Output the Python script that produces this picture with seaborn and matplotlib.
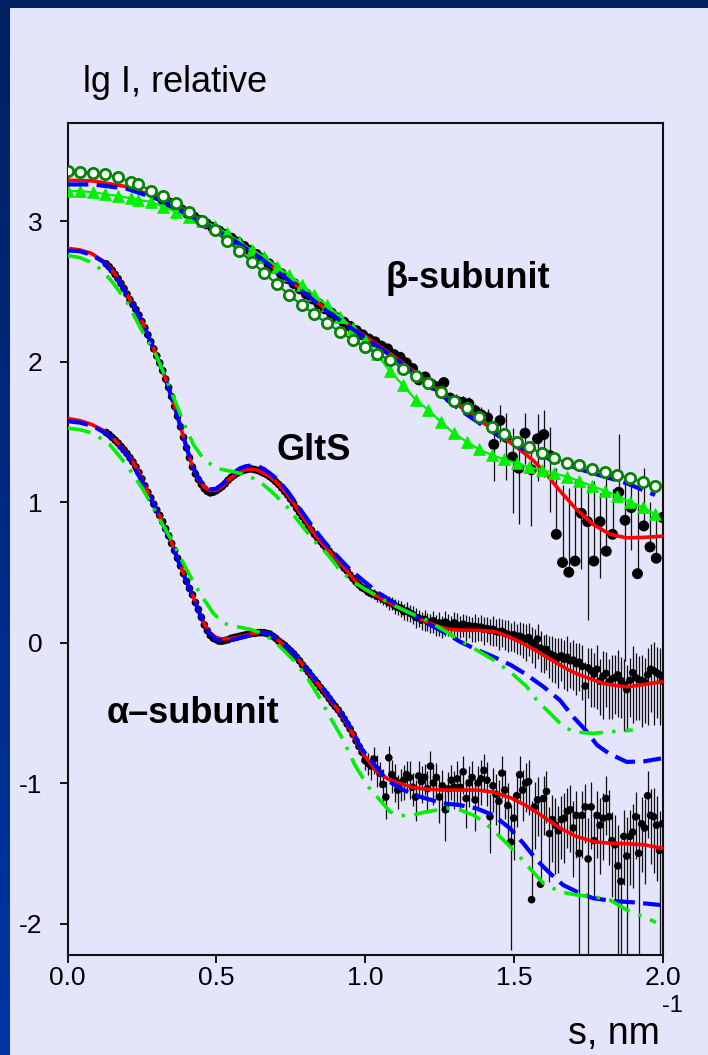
import numpy as np
import matplotlib
matplotlib.use("Agg")
import matplotlib.pyplot as plt
import seaborn as sns
from matplotlib.patches import Rectangle
from matplotlib.colors import LinearSegmentedColormap

# ---------------------------------------------------------------------------
# beta-subunit: two model curves, two symbol curves, experimental points
# ---------------------------------------------------------------------------
beta_red_s = [0.0, 0.087, 0.199, 0.311, 0.423, 0.535, 0.647, 0.759, 0.871, 0.983,
              1.095, 1.207, 1.319, 1.37, 1.41, 1.454, 1.51, 1.566, 1.611, 1.655,
              1.712, 1.767, 1.824, 1.88, 1.935, 2.0]
beta_red = [3.29, 3.285, 3.244, 3.161, 3.031, 2.9, 2.746, 2.557, 2.367, 2.205,
            2.04, 1.86, 1.68, 1.605, 1.545, 1.475, 1.39, 1.295, 1.195, 1.08,
            0.945, 0.84, 0.77, 0.745, 0.748, 0.757]

beta_blue_s = [0.0, 0.087, 0.199, 0.311, 0.423, 0.535, 0.647, 0.759, 0.871, 0.983,
               1.095, 1.207, 1.319, 1.41, 1.487, 1.566, 1.655, 1.712, 1.767, 1.824,
               1.88, 1.935, 1.975]
beta_blue = [3.26, 3.26, 3.23, 3.15, 3.025, 2.895, 2.74, 2.55, 2.36, 2.195,
             2.03, 1.845, 1.656, 1.524, 1.418, 1.347, 1.287, 1.24, 1.204, 1.169,
             1.133, 1.085, 1.05]

beta_sym_s = [0.0, 0.042, 0.085, 0.127, 0.17, 0.212, 0.238, 0.28, 0.322, 0.365,
              0.41, 0.451, 0.496, 0.535, 0.577, 0.619, 0.661, 0.703, 0.746, 0.787,
              0.829, 0.871, 0.916, 0.959, 1.0, 1.041, 1.084, 1.127, 1.171, 1.213,
              1.255, 1.299, 1.342, 1.383, 1.426, 1.467, 1.51, 1.552, 1.594, 1.636,
              1.68, 1.72, 1.764, 1.807, 1.848, 1.891, 1.933, 1.975]
beta_circles = [3.356, 3.351, 3.344, 3.332, 3.311, 3.28, 3.261, 3.216, 3.178, 3.126,
                3.066, 3.002, 2.936, 2.86, 2.789, 2.71, 2.628, 2.552, 2.473, 2.402,
                2.338, 2.272, 2.212, 2.153, 2.105, 2.053, 2.01, 1.95, 1.897, 1.845,
                1.785, 1.721, 1.667, 1.607, 1.536, 1.484, 1.43, 1.39, 1.347, 1.311,
                1.28, 1.263, 1.233, 1.211, 1.194, 1.169, 1.142, 1.116]
beta_triangles = [3.213, 3.213, 3.204, 3.192, 3.178, 3.162, 3.15, 3.137, 3.102, 3.066,
                  3.03, 2.997, 2.964, 2.912, 2.853, 2.794, 2.746, 2.675, 2.616, 2.544,
                  2.473, 2.402, 2.319, 2.236, 2.153, 2.05, 1.93, 1.833, 1.726, 1.655,
                  1.57, 1.489, 1.429, 1.375, 1.335, 1.304, 1.275, 1.247, 1.228, 1.204,
                  1.18, 1.149, 1.114, 1.08, 1.043, 1.002, 0.962, 0.915]

beta_s = [0.32, 0.341, 0.362, 0.383, 0.404, 0.425, 0.446, 0.467, 0.488, 0.509,
          0.53, 0.551, 0.572, 0.593, 0.614, 0.635, 0.656, 0.677, 0.698, 0.719,
          0.74, 0.761, 0.782, 0.803, 0.824, 0.845, 0.866, 0.887, 0.908, 0.929,
          0.95, 0.971, 0.992, 1.013, 1.034, 1.055, 1.076, 1.097, 1.118, 1.139,
          1.16, 1.181, 1.202, 1.223, 1.244, 1.265, 1.286, 1.307, 1.328, 1.349,
          1.37, 1.391, 1.412, 1.433, 1.454, 1.475, 1.496, 1.517, 1.538, 1.559,
          1.58, 1.601, 1.622, 1.643, 1.664, 1.685, 1.706, 1.727, 1.748, 1.769,
          1.79, 1.811, 1.832, 1.853, 1.874, 1.895, 1.916, 1.937, 1.958, 1.979,
          2.0]
beta_lgI = [3.153, 3.13, 3.105, 3.08, 3.053, 3.029, 3.004, 2.98, 2.955, 2.93,
            2.905, 2.878, 2.85, 2.82, 2.79, 2.762, 2.732, 2.695, 2.66, 2.625,
            2.59, 2.555, 2.517, 2.48, 2.445, 2.41, 2.375, 2.345, 2.31, 2.28,
            2.25, 2.22, 2.19, 2.16, 2.14, 2.11, 2.09, 2.05, 2.03, 1.99,
            1.95, 1.87, 1.89, 1.84, 1.82, 1.85, 1.74, 1.72, 1.71, 1.70,
            1.65, 1.62, 1.60, 1.41, 1.58, 1.46, 1.32, 1.24, 1.49, 1.23,
            1.45, 1.48, 1.33, 0.77, 0.57, 0.50, 0.58, 0.92, 0.86, 0.58,
            0.86, 0.65, 0.77, 1.07, 0.87, 0.96, 0.49, 0.83, 0.68, 0.60,
            0.89]
# relative error of the intensity, sigma / I
beta_rel_err = [0.03] * 30 + [0.04] * 10 + [
    0.06, 0.08, 0.07, 0.09, 0.08, 0.1, 0.09, 0.11, 0.1, 0.12,
    0.12, 0.14, 0.15, 0.45, 0.3, 0.5, 0.6, 0.6, 0.4, 0.6,
    0.5, 0.5, 0.6, 1.95, 2.55, 3.0, 2.7, 0.6, 0.8, 2.7,
    0.6, 2.5, 1.1, 1.6, 0.9, 0.5, 3.0, 1.6, 1.1, 1.2,
    0.7]

# ---------------------------------------------------------------------------
# GltS holoenzyme
# ---------------------------------------------------------------------------
glts_red_s = [0.0, 0.04, 0.08, 0.12, 0.14, 0.16, 0.18, 0.20, 0.22, 0.24,
              0.26, 0.28, 0.30, 0.32, 0.34, 0.36, 0.38, 0.40, 0.42, 0.44,
              0.46, 0.48, 0.50, 0.52, 0.54, 0.56, 0.58, 0.60, 0.62, 0.64,
              0.66, 0.68, 0.70, 0.72, 0.74, 0.76, 0.78, 0.80, 0.82, 0.84,
              0.86, 0.88, 0.90, 0.92, 0.94, 0.96, 0.98, 1.00, 1.04, 1.08,
              1.12, 1.16, 1.20, 1.24, 1.28, 1.32, 1.36, 1.40, 1.44, 1.48,
              1.52, 1.56, 1.60, 1.64, 1.68, 1.72, 1.76, 1.80, 1.84, 1.88,
              1.92, 1.96, 2.00]
glts_red = [2.805, 2.795, 2.77, 2.715, 2.675, 2.62, 2.555, 2.48, 2.405, 2.33,
            2.24, 2.14, 2.04, 1.935, 1.815, 1.68, 1.535, 1.385, 1.25, 1.16,
            1.105, 1.08, 1.085, 1.11, 1.155, 1.19, 1.215, 1.23, 1.235, 1.225,
            1.205, 1.18, 1.145, 1.10, 1.05, 0.99, 0.925, 0.865, 0.80, 0.745,
            0.695, 0.65, 0.60, 0.555, 0.51, 0.455, 0.41, 0.375, 0.33, 0.285,
            0.24, 0.195, 0.152, 0.118, 0.095, 0.088, 0.088, 0.085, 0.075, 0.045,
            0.005, -0.04, -0.09, -0.14, -0.19, -0.23, -0.26, -0.29, -0.305, -0.315,
            -0.305, -0.29, -0.28]

glts_blue_s = [0.0, 0.04, 0.08, 0.12, 0.16, 0.20, 0.24, 0.28, 0.32, 0.36,
               0.40, 0.42, 0.44, 0.46, 0.48, 0.50, 0.52, 0.54, 0.56, 0.58,
               0.60, 0.62, 0.64, 0.66, 0.68, 0.70, 0.72, 0.74, 0.76, 0.78,
               0.80, 0.82, 0.84, 0.86, 0.88, 0.90, 0.92, 0.94, 0.96, 0.98,
               1.00, 1.04, 1.10, 1.15, 1.21, 1.26, 1.32, 1.38, 1.43, 1.49,
               1.54, 1.60, 1.655, 1.70, 1.74, 1.78, 1.82, 1.88, 1.94, 1.995]
glts_blue = [2.79, 2.785, 2.76, 2.71, 2.615, 2.475, 2.33, 2.14, 1.935, 1.68,
             1.39, 1.26, 1.17, 1.115, 1.09, 1.095, 1.125, 1.17, 1.21, 1.24,
             1.255, 1.26, 1.255, 1.235, 1.205, 1.17, 1.125, 1.075, 1.015, 0.955,
             0.895, 0.835, 0.78, 0.725, 0.675, 0.63, 0.585, 0.54, 0.50, 0.465,
             0.43, 0.36, 0.28, 0.21, 0.135, 0.08, 0.005, -0.055, -0.10, -0.16,
             -0.225, -0.315, -0.41, -0.53, -0.62, -0.73, -0.79, -0.85, -0.845, -0.825]

glts_green_s = [0.0, 0.04, 0.087, 0.12, 0.154, 0.199, 0.255, 0.30, 0.333, 0.367,
                0.389, 0.423, 0.456, 0.50, 0.557, 0.602, 0.647, 0.692, 0.737, 0.782,
                0.826, 0.871, 0.916, 0.96, 1.006, 1.073, 1.151, 1.207, 1.263, 1.319,
                1.375, 1.431, 1.487, 1.544, 1.577, 1.628, 1.661, 1.70, 1.767, 1.824,
                1.90]
glts_green = [2.755, 2.74, 2.70, 2.64, 2.557, 2.426, 2.2, 2.034, 1.87, 1.69,
              1.57, 1.41, 1.31, 1.24, 1.216, 1.192, 1.145, 1.062, 0.967, 0.848,
              0.73, 0.635, 0.516, 0.43, 0.374, 0.29, 0.21, 0.16, 0.089, 0.018,
              -0.053, -0.124, -0.207, -0.315, -0.409, -0.516, -0.587, -0.635, -0.647, -0.635,
              -0.623]

# ---------------------------------------------------------------------------
# alpha-subunit
# ---------------------------------------------------------------------------
alpha_red_s = [0.0, 0.04, 0.08, 0.12, 0.16, 0.20, 0.22, 0.24, 0.26, 0.28,
               0.30, 0.32, 0.34, 0.36, 0.38, 0.40, 0.42, 0.44, 0.46, 0.48,
               0.50, 0.52, 0.54, 0.56, 0.58, 0.60, 0.62, 0.64, 0.66, 0.68,
               0.70, 0.72, 0.74, 0.76, 0.78, 0.80, 0.82, 0.84, 0.86, 0.88,
               0.90, 0.92, 0.94, 0.96, 0.98, 1.00, 1.04, 1.08, 1.12, 1.16,
               1.20, 1.26, 1.32, 1.38, 1.43, 1.49, 1.54, 1.60, 1.655, 1.71,
               1.77, 1.82, 1.88, 1.94, 2.00]
alpha_red = [1.595, 1.58, 1.553, 1.51, 1.44, 1.345, 1.285, 1.21, 1.115, 1.03,
             0.943, 0.855, 0.762, 0.655, 0.545, 0.435, 0.34, 0.235, 0.13, 0.065,
             0.035, 0.025, 0.027, 0.032, 0.042, 0.053, 0.063, 0.07, 0.072, 0.065,
             0.03, -0.005, -0.04, -0.08, -0.13, -0.185, -0.24, -0.29, -0.345, -0.40,
             -0.455, -0.51, -0.58, -0.655, -0.74, -0.81, -0.92, -0.975, -1.005, -1.03,
             -1.042, -1.05, -1.05, -1.05, -1.065, -1.105, -1.16, -1.24, -1.32, -1.38,
             -1.418, -1.428, -1.432, -1.44, -1.465]

alpha_blue_s = [0.0, 0.042, 0.087, 0.143, 0.199, 0.255, 0.30, 0.345, 0.389, 0.423,
                0.445, 0.468, 0.496, 0.524, 0.557, 0.602, 0.647, 0.681, 0.714, 0.759,
                0.804, 0.849, 0.893, 0.927, 0.961, 0.983, 1.028, 1.073, 1.129, 1.185,
                1.263, 1.319, 1.375, 1.431, 1.487, 1.532, 1.577, 1.622, 1.666, 1.723,
                1.767, 1.835, 1.902, 1.992]
alpha_blue = [1.575, 1.565, 1.54, 1.47, 1.34, 1.13, 0.94, 0.73, 0.49, 0.32,
              0.2, 0.09, 0.025, 0.01, 0.02, 0.045, 0.07, 0.065, 0.01, -0.07,
              -0.185, -0.30, -0.42, -0.52, -0.64, -0.742, -0.86, -0.979, -1.05, -1.098,
              -1.145, -1.157, -1.181, -1.228, -1.322, -1.429, -1.548, -1.643, -1.726, -1.785,
              -1.82, -1.84, -1.849, -1.868]

alpha_green_s = [0.0, 0.042, 0.087, 0.143, 0.199, 0.255, 0.311, 0.356, 0.401, 0.445,
                 0.49, 0.524, 0.569, 0.613, 0.658, 0.703, 0.759, 0.804, 0.849, 0.882,
                 0.927, 0.966, 1.011, 1.05, 1.084, 1.118, 1.162, 1.207, 1.275, 1.319,
                 1.364, 1.398, 1.431, 1.476, 1.51, 1.544, 1.60, 1.655, 1.712, 1.767,
                 1.824, 1.88, 1.941, 1.978]
alpha_green = [1.525, 1.515, 1.489, 1.406, 1.263, 1.085, 0.872, 0.706, 0.516, 0.35,
               0.208, 0.137, 0.113, 0.094, 0.065, -0.006, -0.125, -0.243, -0.40, -0.528,
               -0.694, -0.872, -1.026, -1.121, -1.204, -1.233, -1.228, -1.204, -1.181, -1.192,
               -1.228, -1.275, -1.335, -1.429, -1.5, -1.584, -1.714, -1.774, -1.797, -1.809,
               -1.833, -1.904, -1.956, -1.992]

# ---------------------------------------------------------------------------
# experimental curves of GltS and alpha share one s grid
# ---------------------------------------------------------------------------
scan_s = [0.13, 0.14, 0.15, 0.16, 0.17, 0.18, 0.19, 0.20, 0.21, 0.22,
          0.23, 0.24, 0.25, 0.26, 0.27, 0.28, 0.29, 0.30, 0.31, 0.32,
          0.33, 0.34, 0.35, 0.36, 0.37, 0.38, 0.39, 0.40, 0.41, 0.42,
          0.43, 0.44, 0.45, 0.46, 0.47, 0.48, 0.49, 0.50, 0.51, 0.52,
          0.53, 0.54, 0.55, 0.56, 0.57, 0.58, 0.59, 0.60, 0.61, 0.62,
          0.63, 0.64, 0.65, 0.66, 0.67, 0.68, 0.69, 0.70, 0.71, 0.72,
          0.73, 0.74, 0.75, 0.76, 0.77, 0.78, 0.79, 0.80, 0.81, 0.82,
          0.83, 0.84, 0.85, 0.86, 0.87, 0.88, 0.89, 0.90, 0.91, 0.92,
          0.93, 0.94, 0.95, 0.96, 0.97, 0.98, 0.99, 1.00, 1.01, 1.02,
          1.03, 1.04, 1.05, 1.06, 1.07, 1.08, 1.09, 1.10, 1.11, 1.12,
          1.13, 1.14, 1.15, 1.16, 1.17, 1.18, 1.19, 1.20, 1.21, 1.22,
          1.23, 1.24, 1.25, 1.26, 1.27, 1.28, 1.29, 1.30, 1.31, 1.32,
          1.33, 1.34, 1.35, 1.36, 1.37, 1.38, 1.39, 1.40, 1.41, 1.42,
          1.43, 1.44, 1.45, 1.46, 1.47, 1.48, 1.49, 1.50, 1.51, 1.52,
          1.53, 1.54, 1.55, 1.56, 1.57, 1.58, 1.59, 1.60, 1.61, 1.62,
          1.63, 1.64, 1.65, 1.66, 1.67, 1.68, 1.69, 1.70, 1.71, 1.72,
          1.73, 1.74, 1.75, 1.76, 1.77, 1.78, 1.79, 1.80, 1.81, 1.82,
          1.83, 1.84, 1.85, 1.86, 1.87, 1.88, 1.89, 1.90, 1.91, 1.92,
          1.93, 1.94, 1.95, 1.96, 1.97, 1.98, 1.99, 2.00]

glts_lgI = [2.695, 2.675, 2.65, 2.62, 2.59, 2.555, 2.52, 2.48, 2.44, 2.405,
            2.37, 2.33, 2.285, 2.24, 2.19, 2.14, 2.09, 2.04, 1.99, 1.935,
            1.875, 1.815, 1.75, 1.68, 1.61, 1.535, 1.46, 1.385, 1.315, 1.25,
            1.2, 1.16, 1.125, 1.095, 1.075, 1.065, 1.07, 1.08, 1.095, 1.11,
            1.13, 1.155, 1.175, 1.19, 1.205, 1.215, 1.225, 1.23, 1.235, 1.235,
            1.23, 1.225, 1.215, 1.205, 1.195, 1.18, 1.165, 1.145, 1.125, 1.10,
            1.075, 1.05, 1.02, 0.99, 0.955, 0.925, 0.895, 0.865, 0.83, 0.80,
            0.77, 0.745, 0.72, 0.695, 0.67, 0.65, 0.625, 0.60, 0.575, 0.555,
            0.53, 0.51, 0.48, 0.455, 0.43, 0.41, 0.39, 0.38, 0.36, 0.35,
            0.345, 0.33, 0.325, 0.31, 0.30, 0.285, 0.28, 0.26, 0.25, 0.245,
            0.22, 0.225, 0.21, 0.2, 0.18, 0.175, 0.16, 0.165, 0.15, 0.14,
            0.155, 0.13, 0.14, 0.12, 0.145, 0.13, 0.12, 0.14, 0.125, 0.115,
            0.13, 0.11, 0.12, 0.10, 0.115, 0.105, 0.11, 0.095, 0.10, 0.085,
            0.095, 0.08, 0.075, 0.08, 0.065, 0.06, 0.05, 0.055, 0.04, 0.045,
            0.035, 0.02, 0.035, 0.0, -0.02, 0.025, -0.04, -0.06, -0.05, -0.08,
            -0.09, -0.1, -0.11, -0.095, -0.12, -0.105, -0.13, -0.125, -0.15, -0.14,
            -0.17, -0.31, -0.18, -0.2, -0.225, -0.19, -0.275, -0.24, -0.22, -0.28,
            -0.26, -0.25, -0.23, -0.27, -0.3, -0.335, -0.27, -0.215, -0.25, -0.265,
            -0.27, -0.28, -0.23, -0.19, -0.2, -0.215, -0.23, -0.275]
glts_rel_err = [0.01] * 50 + [0.015] * 10 + [0.02] * 10 + [0.03] * 10 + [
    0.04, 0.04, 0.05, 0.05, 0.05, 0.06, 0.06, 0.06, 0.07, 0.07,
    0.08, 0.09, 0.09, 0.1, 0.1, 0.11, 0.11, 0.12, 0.12, 0.13,
    0.13, 0.15, 0.14, 0.14, 0.16, 0.14, 0.15, 0.17, 0.14, 0.16,
    0.18, 0.17, 0.19, 0.18, 0.2, 0.18, 0.17, 0.19, 0.21, 0.18,
    0.19, 0.21, 0.18, 0.2, 0.22, 0.19, 0.21, 0.23, 0.2, 0.21,
    0.24, 0.22, 0.25, 0.23, 0.24, 0.26, 0.23, 0.25, 0.24, 0.27,
    0.28, 0.3, 0.26, 0.29, 0.31, 0.28, 0.32, 0.3, 0.29, 0.33,
    0.36, 0.35, 0.39, 0.34, 0.38, 0.42, 0.36, 0.39, 0.4, 0.38,
    0.42, 0.49, 0.39, 0.45, 0.42, 0.48, 0.43, 0.5, 0.42, 0.46,
    0.48, 0.45, 0.5, 0.46, 0.53, 0.49, 0.45, 0.56, 0.5, 0.48,
    0.53, 0.49, 0.56, 0.5, 0.59, 0.52, 0.56, 0.53]

alpha_lgI = [1.495, 1.48, 1.46, 1.44, 1.42, 1.395, 1.37, 1.345, 1.315, 1.285,
             1.25, 1.21, 1.165, 1.115, 1.07, 1.03, 0.985, 0.943, 0.905, 0.86,
             0.81, 0.76, 0.705, 0.655, 0.6, 0.545, 0.49, 0.435, 0.385, 0.34,
             0.285, 0.235, 0.18, 0.125, 0.085, 0.05, 0.03, 0.02, 0.01, 0.01,
             0.015, 0.02, 0.03, 0.035, 0.04, 0.045, 0.05, 0.055, 0.06, 0.065,
             0.065, 0.07, 0.07, 0.07, 0.065, 0.06, 0.045, 0.03, 0.01, -0.005,
             -0.02, -0.04, -0.06, -0.08, -0.105, -0.13, -0.16, -0.185, -0.21, -0.24,
             -0.265, -0.29, -0.32, -0.345, -0.37, -0.4, -0.43, -0.455, -0.48, -0.51,
             -0.545, -0.58, -0.615, -0.655, -0.7, -0.74, -0.78, -0.84, -0.86, -0.88,
             -0.83, -0.9, -0.93, -1.01, -1.1, -0.82, -0.94, -0.98, -1.05, -1.0,
             -0.98, -0.94, -0.96, -1.03, -1.1, -0.95, -0.99, -0.96, -1.04, -0.88,
             -1.0, -0.96, -1.1, -1.02, -1.19, -1.04, -0.98, -1.03, -0.97, -1.03,
             -0.92, -1.11, -1.0, -0.96, -1.12, -1.0, -0.97, -0.91, -0.98, -1.24,
             -1.02, -1.08, -1.13, -0.93, -1.05, -1.16, -1.42, -1.25, -1.09, -0.94,
             -1.05, -1.0, -0.99, -1.83, -1.17, -1.12, -1.72, -1.11, -1.06, -1.36,
             -1.26, -1.3, -1.34, -1.26, -1.25, -1.2, -1.19, -1.32, -1.23, -1.5,
             -1.23, -1.17, -1.54, -1.17, -1.41, -1.23, -1.3, -1.25, -1.11, -1.24,
             -1.41, -1.44, -1.59, -1.7, -1.38, -1.52, -1.38, -1.35, -1.24, -1.5,
             -1.29, -1.32, -1.09, -1.23, -1.24, -1.3, -1.48, -1.29]
alpha_rel_err = [0.01] * 60 + [0.015] * 10 + [0.02] * 10 + [
    0.04, 0.05, 0.06, 0.07, 0.08, 0.1, 0.12, 0.15, 0.18, 0.2,
    0.22, 0.25, 0.2, 0.28, 0.3, 0.22, 0.26, 0.3, 0.27, 0.25,
    0.28, 0.24, 0.3, 0.26, 0.32, 0.27, 0.3, 0.25, 0.33, 0.28,
    0.3, 0.27, 0.35, 0.3, 0.4, 0.32, 0.28, 0.3, 0.34, 0.3,
    0.3, 0.38, 0.32, 0.3, 0.4, 0.33, 0.35, 0.3, 0.34, 0.45,
    0.35, 0.4, 0.42, 0.33, 0.38, 0.45, 0.83, 0.5, 0.4, 0.35,
    0.4, 0.38, 0.42, 4.0, 0.5, 0.45, 3.3, 0.45, 0.4, 0.55,
    0.5, 0.55, 0.5, 0.48, 0.52, 0.45, 0.5, 0.55, 0.5, 0.95,
    0.5, 0.45, 0.95, 0.5, 0.6, 0.5, 0.55, 0.5, 0.45, 0.55,
    0.6, 0.62, 0.97, 0.97, 0.55, 0.9, 0.55, 0.6, 0.5, 0.9,
    0.55, 0.6, 0.5, 0.55, 0.6, 0.6, 0.9, 0.55]

y_ticks = [-2, -1, 0, 1, 2, 3]
y_tick_labels = ["-2", "-1", "0", "1", "2", "3"]
x_ticks = [0.0, 0.5, 1.0, 1.5, 2.0]
x_tick_labels = ["0.0", "0.5", "1.0", "1.5", "2.0"]

# ---------------------------------------------------------------------------
# styling
# ---------------------------------------------------------------------------
sns.set_theme(style="ticks")
plt.rcParams["font.family"] = ["Liberation Sans", "DejaVu Sans"]
plt.rcParams["axes.unicode_minus"] = False
for key in ("text.color", "axes.labelcolor", "xtick.color", "ytick.color"):
    plt.rcParams[key] = "black"

W, H = 708, 1055
fig = plt.figure(figsize=(W / 100, H / 100), dpi=100)
fig.patch.set_facecolor("#002060")

# slide frame: dark blue fading to a brighter blue towards the bottom
frame = fig.add_axes([0, 0, 1, 1], zorder=-10)
frame_cmap = LinearSegmentedColormap.from_list("frame", ["#002060", "#0035A6"])
frame.imshow(np.linspace(0, 1, 256).reshape(-1, 1), aspect="auto", cmap=frame_cmap,
             extent=[0, 1, 0, 1], origin="upper")
frame.set_axis_off()
fig.patches.append(Rectangle((10 / W, 0), 1 - 10 / W, 1 - 8 / H,
                             transform=fig.transFigure, facecolor="#E4E4FB",
                             edgecolor="none", zorder=-5))

ax = fig.add_axes([67.5 / W, 1 - 955 / H, 595 / W, 832 / H])
ax.set_facecolor("none")

RED, BLUE, LIME, DKGREEN = "#FF0000", "#0000FF", "#00F000", "#078307"
dash_blue = (0, (5.0, 2.0))
dash_dot_green = (0, (6.5, 2.6, 0.9, 2.6))


def error_bars(s, lg, rel):
    """Vertical bars for I +/- sigma drawn on the log scale; an undefined lower
    end (sigma >= I) is left out."""
    s, lg, rel = np.asarray(s), np.asarray(lg), np.asarray(rel)
    top = lg + np.log10(1 + rel)
    bottom = np.where(rel < 1, lg + np.log10(np.clip(1 - rel, 1e-6, None)), lg)
    ax.vlines(s, bottom, top, colors="#111111", linewidth=0.9, zorder=2)


def curve(s, lg, color, ls="-", lw=2.6, z=4):
    sns.lineplot(x=s, y=lg, ax=ax, color=color, linewidth=lw, linestyle=ls,
                 sort=False, estimator=None, errorbar=None, zorder=z,
                 dash_capstyle="butt")


# experimental points with error bars
error_bars(scan_s, alpha_lgI, alpha_rel_err)
error_bars(scan_s, glts_lgI, glts_rel_err)
error_bars(beta_s, beta_lgI, beta_rel_err)
sns.scatterplot(x=scan_s, y=alpha_lgI, ax=ax, color="black", s=30,
                edgecolor="none", zorder=3)
sns.scatterplot(x=scan_s, y=glts_lgI, ax=ax, color="black", s=30,
                edgecolor="none", zorder=3)
sns.scatterplot(x=beta_s, y=beta_lgI, ax=ax, color="black", s=62,
                edgecolor="none", zorder=3)

# model curves
for s_r, red, s_b, blue in [(alpha_red_s, alpha_red, alpha_blue_s, alpha_blue),
                            (glts_red_s, glts_red, glts_blue_s, glts_blue),
                            (beta_red_s, beta_red, beta_blue_s, beta_blue)]:
    curve(s_r, red, RED, "-", 2.6, 4)
    curve(s_b, blue, BLUE, dash_blue, 3.0, 5)
curve(alpha_green_s, alpha_green, LIME, dash_dot_green, 2.6, 6)
curve(glts_green_s, glts_green, LIME, dash_dot_green, 2.6, 6)

# beta-subunit symbol curves
sns.lineplot(x=beta_sym_s, y=beta_triangles, ax=ax, color=LIME, linewidth=1.6,
             marker="^", markersize=9, markerfacecolor=LIME, markeredgecolor=LIME,
             markeredgewidth=0.5, sort=False, estimator=None, errorbar=None, zorder=4.5)
sns.lineplot(x=beta_sym_s, y=beta_circles, ax=ax, color=DKGREEN, linewidth=1.6,
             marker="o", markersize=7.4, markerfacecolor="white",
             markeredgecolor=DKGREEN, markeredgewidth=2.0, sort=False,
             estimator=None, errorbar=None, zorder=7)

# curve labels
label_style = dict(fontsize=26, fontweight="bold", color="black",
                   ha="left", va="center", zorder=8)
ax.text(1.068, 2.594, "β-subunit", **label_style)
ax.text(0.704, 1.37, "GltS", **label_style)
ax.text(0.133, -0.502, "α–subunit", **label_style)

# axes
ax.set_xlim(0, 2.0)
ax.set_ylim(-2.224, 3.6975)
ax.set_xticks(x_ticks)
ax.set_xticklabels(x_tick_labels)
ax.set_yticks(y_ticks)
ax.set_yticklabels(y_tick_labels)
ax.tick_params(axis="both", direction="out", length=6, width=1.3, color="black",
               labelsize=19, labelcolor="black")
ax.tick_params(axis="y", pad=12)
ax.tick_params(axis="x", pad=2)
for sp in ax.spines.values():
    sp.set_visible(True)
    sp.set_color("#111111")
    sp.set_linewidth(1.5)
ax.set_xlabel("")
ax.set_ylabel("")

fig.text(83 / W, 1 - 92 / H, "lg I, relative", fontsize=26, color="black",
         ha="left", va="baseline")
fig.text(660 / W, 1 - 1044 / H, "s, nm", fontsize=27, color="black",
         ha="right", va="baseline")
fig.text(662 / W, 1 - 1012 / H, "-1", fontsize=17, color="black",
         ha="left", va="baseline")

fig.savefig("out.png", dpi=100, facecolor=fig.get_facecolor())
